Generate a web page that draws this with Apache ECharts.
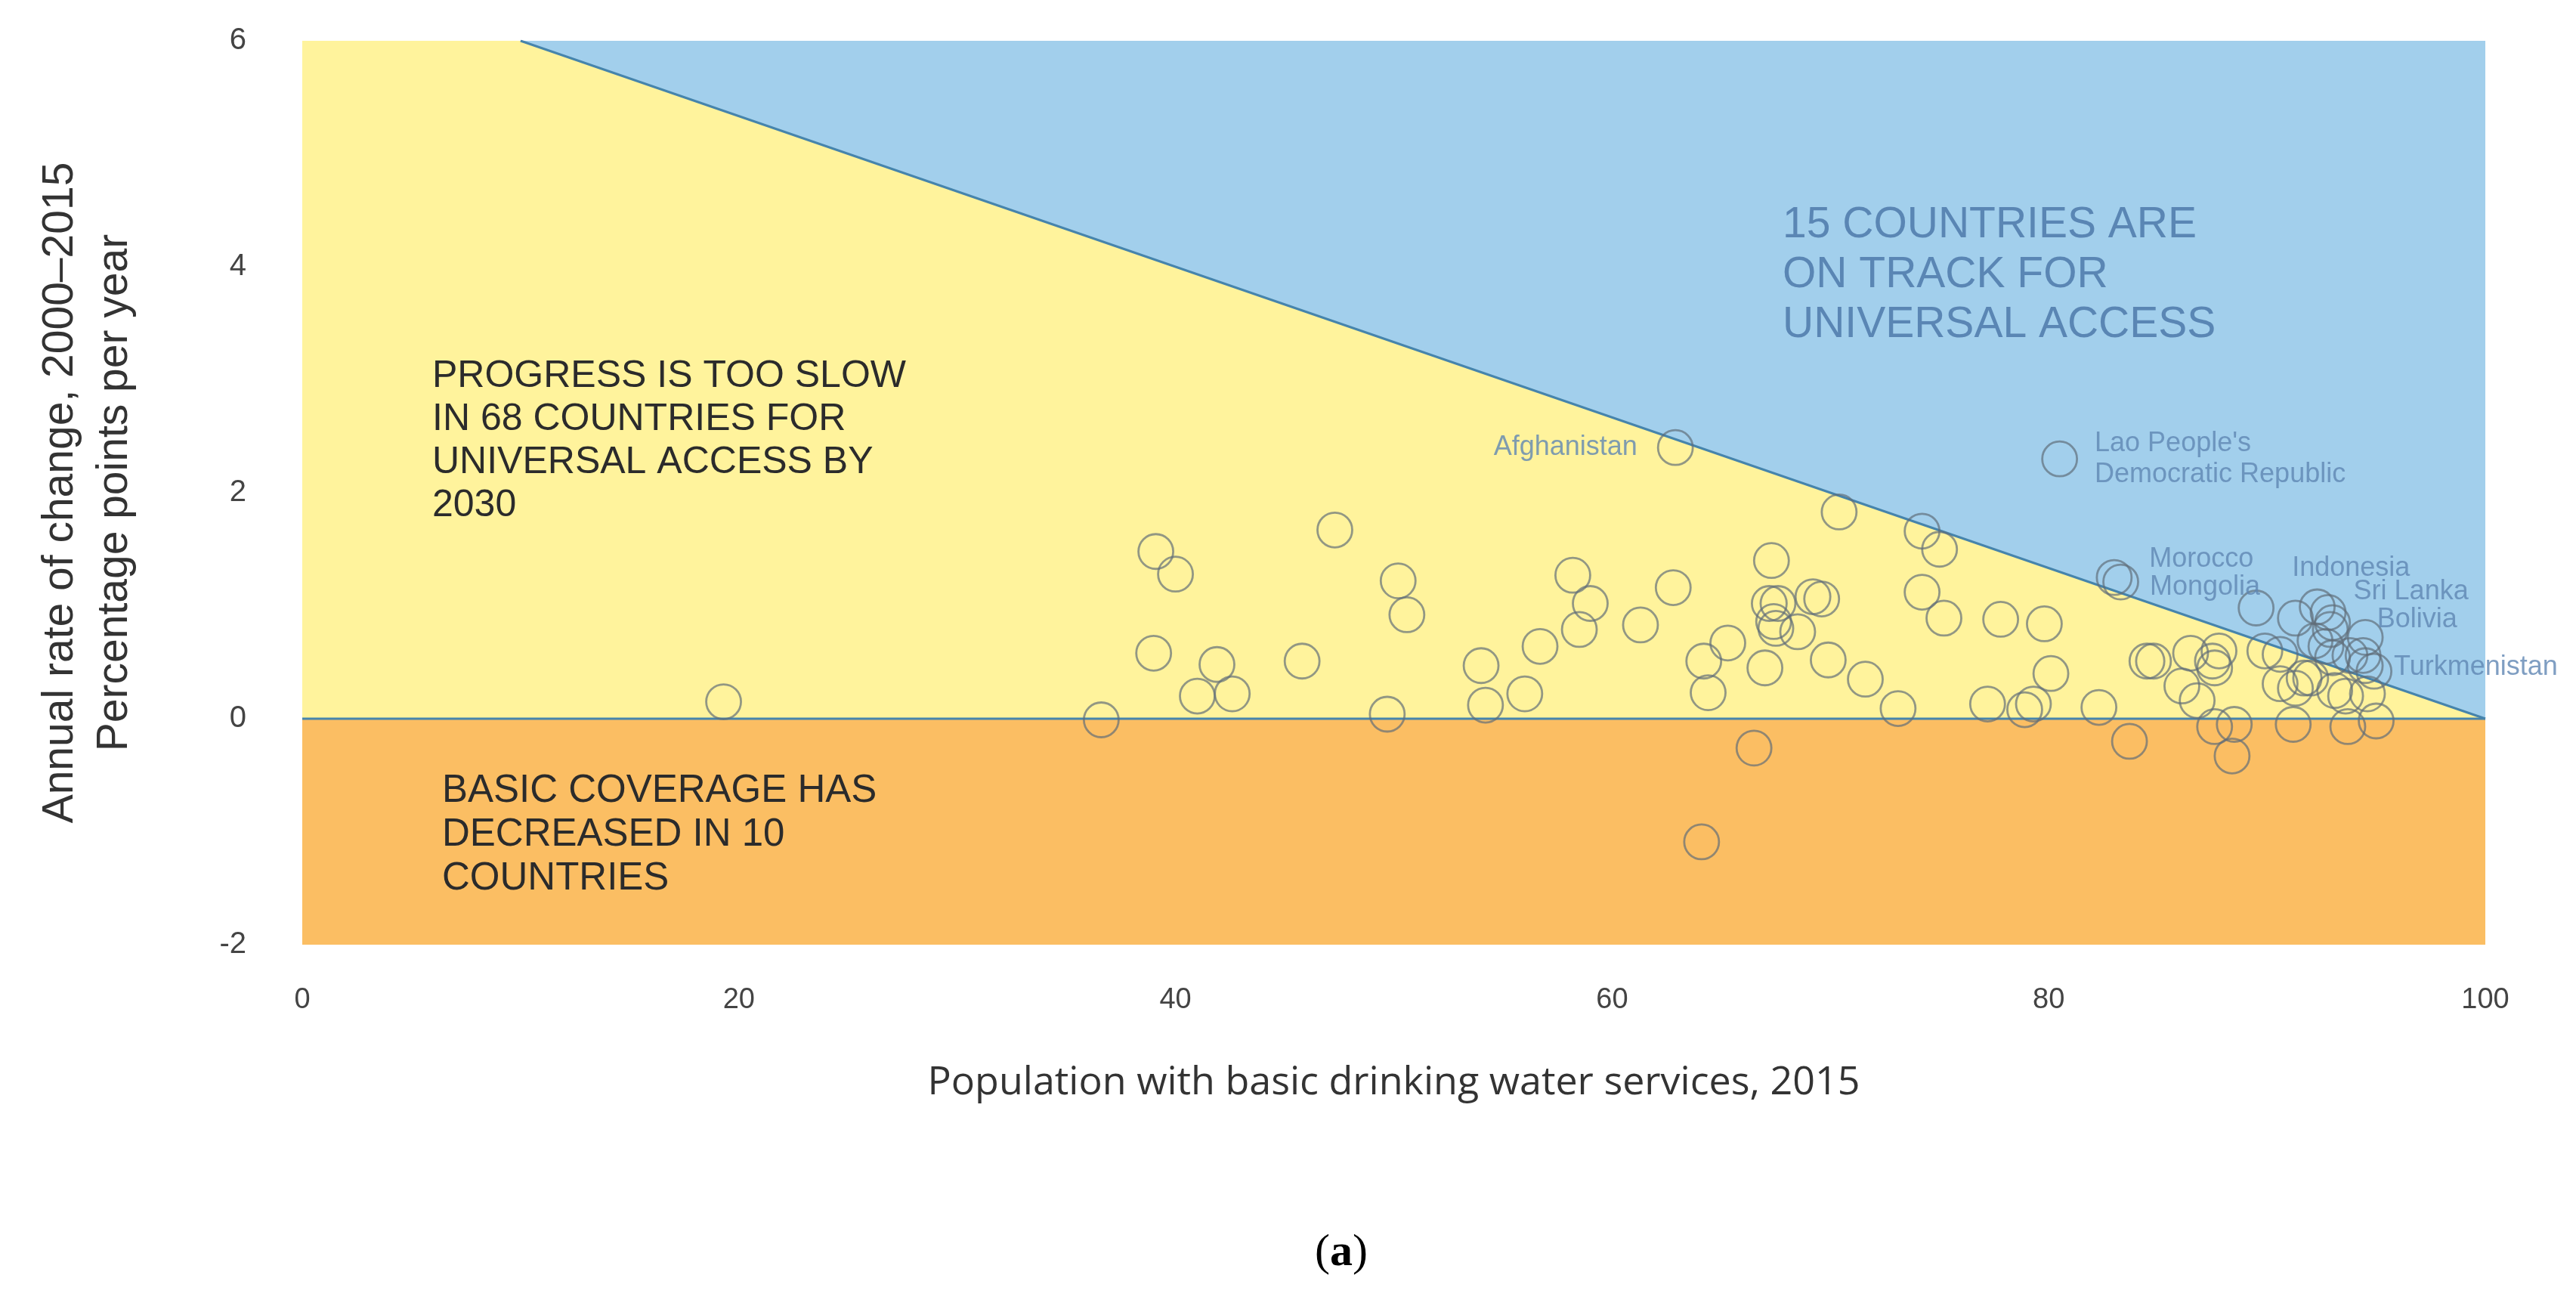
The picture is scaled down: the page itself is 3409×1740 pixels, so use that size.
<!DOCTYPE html>
<html>

<head>
    <meta charset="UTF-8" />
    <title>basic drinking water progress</title>
    <style>
        html, body { margin: 0; padding: 0; background: #fff; }
        #chart { width: 3409px; height: 1740px; }
    </style>
</head>

<body>
    <div id="chart"></div>
    <script src="https://cdn.jsdelivr.net/npm/echarts@6/dist/echarts.min.js"></script>
    <script>
        // values
        var coverage = [
            19.3, 36.6, 39.1, 40.0, 39.0, 41.0, 41.9, 42.6, 45.8, 47.3,
            49.7, 50.2, 50.6, 54.0, 54.2, 56.0, 56.7, 58.2, 58.5, 59.0,
            61.3, 62.8, 64.2, 64.4, 64.1, 65.3, 66.5, 67.0, 67.3, 67.2,
            67.4, 67.6, 67.5, 68.5, 69.2, 69.6, 69.9, 70.4, 71.6, 73.1,
            74.2, 75.0, 74.2, 75.2, 77.2, 77.8, 78.9, 79.3, 79.8, 80.1,
            82.3, 83.7, 84.5, 84.8, 86.5, 86.1, 86.8, 87.5, 87.8, 87.6,
            87.6, 88.5, 88.4, 89.5, 91.3, 93.0, 92.2, 92.7, 93.8, 94.4,
            89.9, 90.6, 91.3, 91.7, 93.1, 93.6, 94.6, 91.2, 93.7, 95.0,
            90.6, 93.0, 94.5, 92.0, 92.9
        ];
        var annualChange = [
            0.15, -0.01, 1.48, 1.28, 0.58, 0.20, 0.48, 0.22, 0.51, 1.67,
            0.04, 1.22, 0.92, 0.47, 0.12, 0.22, 0.64, 1.27, 0.79, 1.02,
            0.83, 1.16, 0.51, 0.23, -1.09, 0.67, -0.26, 0.45, 1.40, 1.02,
            0.86, 1.02, 0.80, 0.77, 1.08, 1.06, 0.52, 1.83, 0.35, 0.09,
            1.66, 1.50, 1.12, 0.89, 0.13, 0.88, 0.08, 0.13, 0.84, 0.40,
            0.10, -0.20, 0.51, 0.51, 0.58, 0.29, 0.16, 0.51, 0.60, 0.45,
            -0.07, -0.05, -0.33, 0.98, 0.89, 0.85, 0.69, 0.64, 0.56, 0.56,
            0.60, 0.31, 0.27, 0.36, 0.25, 0.20, 0.22, -0.05, -0.07, -0.02,
            0.57, 0.54, 0.47, 0.36, 0.79
        ];

        // countries named in the picture
        var labelNames = ['Afghanistan', 'Lao People\'s\nDemocratic Republic', 'Morocco', 'Mongolia',
            'Indonesia', 'Sri Lanka', 'Bolivia', 'Turkmenistan'];
        var labelCoverage = [62.9, 80.5, 83.0, 83.3, 92.3, 92.8, 94.5, 94.9];
        var labelChange = [2.40, 2.30, 1.25, 1.21, 0.99, 0.94, 0.72, 0.42];

        // track to universal access by 2030: (100 - coverage) / 15 years
        var trackCoverage = [10, 100];
        var trackRate = [6, 0];

        var xTicks = [0, 20, 40, 60, 80, 100];
        var yTicks = [-2, 0, 2, 4, 6];

        var lineColor = '#4684ac';
        var circleColor = 'rgba(95,108,120,0.85)';
        var nameColor = '#5f86b3';

        var labelLayout = {
            'Afghanistan': { position: 'left', distance: 26 },
            'Lao People\'s\nDemocratic Republic': { position: 'right', distance: 22, lineHeight: 41 },
            'Morocco': { position: 'right', distance: 22, offset: [0, -24] },
            'Mongolia': { position: 'right', distance: 14, offset: [0, 7] },
            'Indonesia': { position: [-9, -27], align: 'left', verticalAlign: 'middle' },
            'Sri Lanka': { position: [58, -3], align: 'left', verticalAlign: 'middle' },
            'Bolivia': { position: [40, 1], align: 'left', verticalAlign: 'middle' },
            'Turkmenistan': { position: 'right', distance: 2, offset: [0, -5] }
        };

        var points = coverage.map(function (x, i) { return [x, annualChange[i]]; });
        var named = labelNames.map(function (n, i) {
            var lab = Object.assign({ show: true }, labelLayout[n]);
            return { name: n, value: [labelCoverage[i], labelChange[i]], label: lab };
        });
        var track = trackCoverage.map(function (x, i) { return [x, trackRate[i]]; });

        var chart = echarts.init(document.getElementById('chart'));
        var axisFont = '"Liberation Sans Narrow", "Liberation Sans", Arial, sans-serif';

        var option = {
            animation: false,
            backgroundColor: '#ffffff',
            grid: { left: 400, right: 120, top: 54, bottom: 490 },
            xAxis: {
                type: 'value',
                min: xTicks[0],
                max: xTicks[xTicks.length - 1],
                interval: 20,
                axisLine: { show: false },
                axisTick: { show: false },
                splitLine: { show: false },
                axisLabel: { color: '#444', fontSize: 38, fontFamily: axisFont, margin: 55 },
                name: 'Population with basic drinking water services, 2015',
                nameLocation: 'middle',
                nameGap: 157,
                nameTextStyle: { color: '#333', fontSize: 52, fontFamily: '"Open Sans", sans-serif' }
            },
            yAxis: {
                type: 'value',
                min: yTicks[0],
                max: yTicks[yTicks.length - 1],
                interval: 2,
                axisLine: { show: false },
                axisTick: { show: false },
                splitLine: { show: false },
                axisLabel: { color: '#444', fontSize: 40, fontFamily: axisFont, margin: 74 },
                name: 'Annual rate of change, 2000\u20132015\nPercentage points per year',
                nameLocation: 'middle',
                nameRotate: 90,
                nameGap: 212,
                nameTextStyle: {
                    color: '#333', fontSize: 57, lineHeight: 72,
                    fontFamily: '"Liberation Sans", Arial, sans-serif'
                }
            },
            series: [
                {
                    // background zones
                    type: 'line',
                    data: [],
                    z: 1,
                    silent: true,
                    markArea: {
                        silent: true,
                        data: [
                            [{ coord: [0, 0], itemStyle: { color: '#fff39c' } }, { coord: [100, 6] }],
                            [{ coord: [0, -2], itemStyle: { color: '#fbbe63' } }, { coord: [100, 0] }]
                        ]
                    }
                },
                {
                    // on-track zone above the line
                    type: 'line',
                    data: track,
                    z: 2,
                    silent: true,
                    symbol: 'none',
                    lineStyle: { color: lineColor, width: 3 },
                    areaStyle: { origin: 'end', color: '#a2cfec', opacity: 1 }
                },
                {
                    type: 'line',
                    data: [[0, 0], [100, 0]],
                    z: 3,
                    silent: true,
                    symbol: 'none',
                    lineStyle: { color: lineColor, width: 3 }
                },
                {
                    type: 'scatter',
                    data: points,
                    z: 4,
                    symbol: 'circle',
                    symbolSize: 46,
                    itemStyle: { color: 'rgba(0,0,0,0)', borderColor: circleColor, borderWidth: 2.8 }
                },
                {
                    type: 'scatter',
                    data: named,
                    z: 5,
                    symbol: 'circle',
                    symbolSize: 46,
                    itemStyle: { color: 'rgba(0,0,0,0)', borderColor: circleColor, borderWidth: 2.8 },
                    label: {
                        formatter: '{b}',
                        color: nameColor,
                        fontSize: 36,
                        fontFamily: axisFont
                    }
                }
            ],
            graphic: [
                {
                    type: 'text', left: 572, top: 470, z: 10,
                    style: {
                        text: 'PROGRESS IS TOO SLOW\nIN 68 COUNTRIES FOR\nUNIVERSAL ACCESS BY\n2030',
                        fill: '#2b2b2b', font: '50px "Liberation Sans", Arial, sans-serif', lineHeight: 57
                    }
                },
                {
                    type: 'text', left: 585, top: 1018, z: 10,
                    style: {
                        text: 'BASIC COVERAGE HAS\nDECREASED IN 10\nCOUNTRIES',
                        fill: '#2b2b2b', font: '51px "Liberation Sans", Arial, sans-serif', lineHeight: 58
                    }
                },
                {
                    type: 'text', left: 2359, top: 265, z: 10,
                    style: {
                        text: '15 COUNTRIES ARE\nON TRACK FOR\nUNIVERSAL ACCESS',
                        fill: '#5a86b4', font: '57px "Liberation Sans", Arial, sans-serif', lineHeight: 66
                    }
                },
                {
                    type: 'text', left: 1740, top: 1628, z: 10,
                    style: {
                        text: '{n|(}{b|a}{n|)}',
                        rich: {
                            n: { fontSize: 60, fontFamily: '"Liberation Serif", serif', fill: '#000' },
                            b: { fontSize: 60, fontWeight: 'bold', fontFamily: '"Liberation Serif", serif', fill: '#000' }
                        }
                    }
                }
            ]
        };

        chart.setOption(option);
    </script>
</body>

</html>
